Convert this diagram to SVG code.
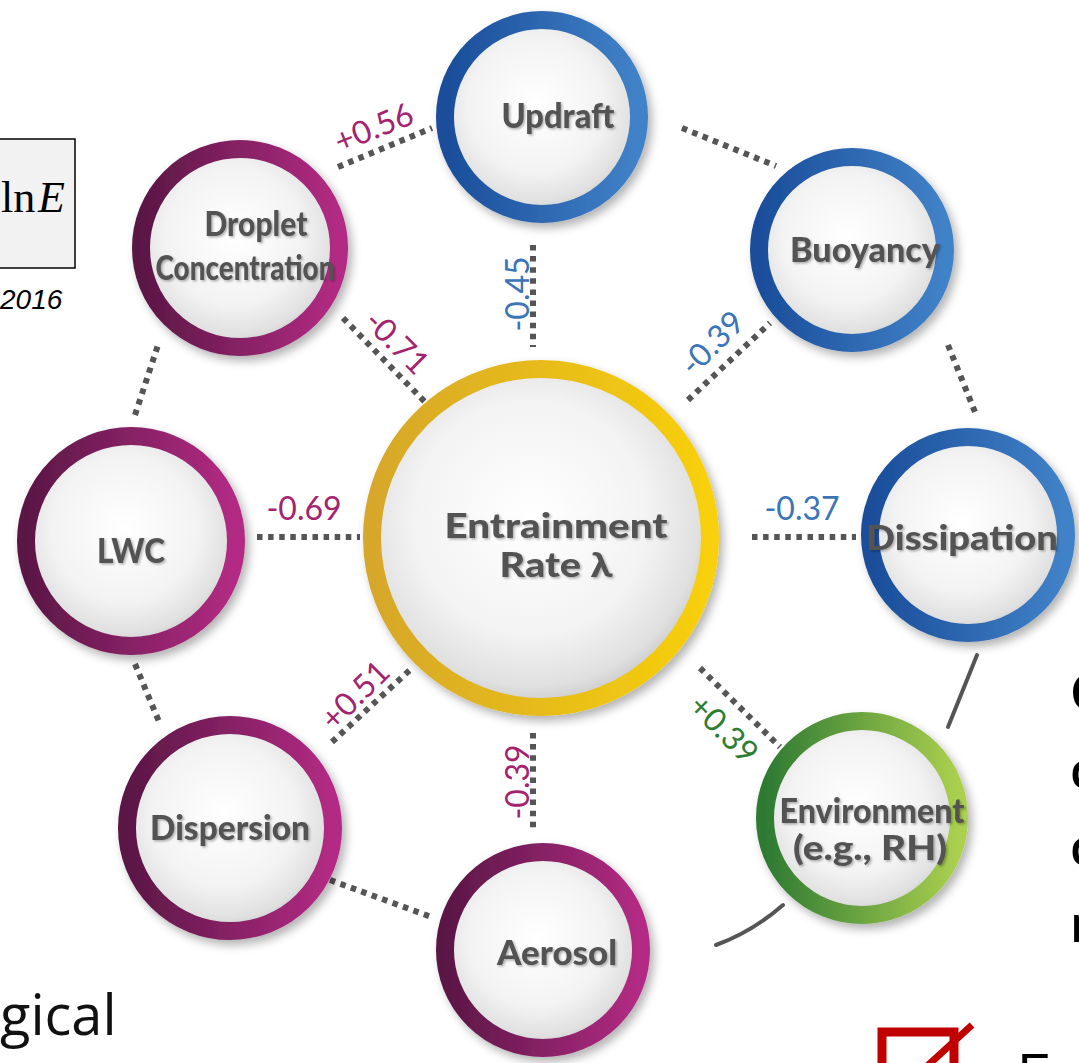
<svg xmlns="http://www.w3.org/2000/svg" width="1079" height="1063" viewBox="0 0 1079 1063">
<defs>
<linearGradient id="gBlue" x1="0" y1="0" x2="1" y2="0"><stop offset="0" stop-color="#1a4d9a"/><stop offset="1" stop-color="#4182c8"/></linearGradient>
<linearGradient id="gMag" x1="0" y1="0" x2="1" y2="0"><stop offset="0" stop-color="#5a1745"/><stop offset="1" stop-color="#b32b84"/></linearGradient>
<linearGradient id="gYel" x1="0" y1="0" x2="1" y2="0"><stop offset="0" stop-color="#d6a72a"/><stop offset="1" stop-color="#f8d00a"/></linearGradient>
<linearGradient id="gGrn" x1="0" y1="0" x2="1" y2="0"><stop offset="0" stop-color="#2e7a33"/><stop offset="1" stop-color="#abd04f"/></linearGradient>
<radialGradient id="gDisc" cx="0.47" cy="0.44" r="0.58"><stop offset="0" stop-color="#ffffff"/><stop offset="0.6" stop-color="#f3f3f3"/><stop offset="0.86" stop-color="#e0e0e0"/><stop offset="1" stop-color="#c2c2c2"/></radialGradient>
<filter id="shadow" x="-20%" y="-20%" width="150%" height="150%"><feDropShadow dx="4" dy="5" stdDeviation="5" flood-color="#000" flood-opacity="0.3"/></filter>
<filter id="tshadow" x="-10%" y="-30%" width="130%" height="170%"><feDropShadow dx="1.5" dy="1.5" stdDeviation="1.2" flood-color="#000" flood-opacity="0.3"/></filter>
</defs>
<style>
.disc{fill:url(#gDisc)}
.ring{fill:none;stroke-width:18}
.blue{stroke:url(#gBlue)}
.mag{stroke:url(#gMag)}
.yel{stroke:url(#gYel)}
.grn{stroke:url(#gGrn)}
.lbl{font-family:Lato,"Open Sans","Liberation Sans",sans-serif;font-weight:900;fill:#535353;font-size:34px;text-anchor:middle;filter:url(#tshadow)}
.dot{stroke:#555;stroke-width:6;stroke-dasharray:5.5 5.6;fill:none}
.solid{stroke:#555;stroke-width:4;fill:none;stroke-linecap:round}
.corr{font-family:Lato,"Open Sans","Liberation Sans",sans-serif;font-size:32px;text-anchor:middle}
.cm{fill:#a3236f}
.cb{fill:#3a74b9}
.cg{fill:#2e7d32}
.side{font-family:"Open Sans","Liberation Sans",sans-serif;font-weight:600;font-size:50px;fill:#000}
</style>

<g id="connectors">
<line class="dot" x1="338" y1="167" x2="432" y2="128"/>
<line class="dot" x1="682" y1="128" x2="776" y2="166"/>
<line class="dot" x1="948" y1="345" x2="975" y2="412"/>
<line class="dot" x1="135" y1="415" x2="158" y2="345"/>
<line class="dot" x1="135" y1="664" x2="160" y2="724"/>
<line class="dot" x1="330" y1="880" x2="434" y2="918"/>
<line class="solid" x1="977" y1="655" x2="948" y2="727"/>
<path class="solid" d="M783,905 Q752,932 716,945"/>
<line class="dot" x1="533" y1="245" x2="533" y2="347"/>
<line class="dot" x1="533" y1="733" x2="533" y2="833"/>
<line class="dot" x1="257" y1="537" x2="360" y2="537"/>
<line class="dot" x1="752" y1="537" x2="856" y2="537"/>
<line class="dot" x1="343" y1="318" x2="425" y2="402"/>
<line class="dot" x1="688" y1="400" x2="770" y2="323"/>
<line class="dot" x1="332" y1="742" x2="412" y2="668"/>
<line class="dot" x1="700" y1="668" x2="780" y2="747"/>
<text class="corr cm" transform="translate(378,138) rotate(-22)">+0.56</text>
<text class="corr cb" transform="translate(529,294) rotate(-90)">-0.45</text>
<text class="corr cm" transform="translate(389,350) rotate(45)">-0.71</text>
<text class="corr cb" transform="translate(720,351) rotate(-45)">-0.39</text>
<text class="corr cm" x="304" y="520">-0.69</text>
<text class="corr cb" x="802" y="520">-0.37</text>
<text class="corr cm" transform="translate(363,703) rotate(-45)">+0.51</text>
<text class="corr cm" transform="translate(529,782) rotate(-90)">-0.39</text>
<text class="corr cg" transform="translate(716,737) rotate(45)">+0.39</text>
</g>

<g id="node-center" filter="url(#shadow)">
<circle class="disc" cx="541" cy="538" r="169"/>
<circle class="ring yel" cx="541" cy="538" r="169" stroke-width="22"/>
</g>
<g id="node-center-label">
<text class="lbl" x="556" y="538" font-size="38" textLength="223" lengthAdjust="spacingAndGlyphs">Entrainment</text>
<text class="lbl" x="556" y="577" font-size="38" textLength="113" lengthAdjust="spacingAndGlyphs">Rate λ</text>
</g>

<g id="node-updraft">
<g filter="url(#shadow)"><circle class="disc" cx="542" cy="117" r="97"/><circle class="ring blue" cx="542" cy="117" r="97"/></g>
<text class="lbl" x="558" y="128" textLength="113" lengthAdjust="spacingAndGlyphs">Updraft</text>
</g>
<g id="node-buoyancy">
<g filter="url(#shadow)"><circle class="disc" cx="852" cy="250" r="93"/><circle class="ring blue" cx="852" cy="250" r="93"/></g>
<text class="lbl" x="865" y="262" textLength="150" lengthAdjust="spacingAndGlyphs">Buoyancy</text>
</g>
<g id="node-dissipation">
<g filter="url(#shadow)"><circle class="disc" cx="968" cy="535" r="98"/><circle class="ring blue" cx="968" cy="535" r="98"/></g>
<text class="lbl" x="962" y="550" textLength="192" lengthAdjust="spacingAndGlyphs">Dissipation</text>
</g>
<g id="node-environment">
<g filter="url(#shadow)"><circle class="disc" cx="862" cy="818" r="97"/><circle class="ring grn" cx="862" cy="818" r="97"/></g>
<text class="lbl" x="872" y="823" textLength="185" lengthAdjust="spacingAndGlyphs">Environment</text>
<text class="lbl" x="870" y="860" textLength="154" lengthAdjust="spacingAndGlyphs">(e.g., RH)</text>
</g>
<g id="node-aerosol">
<g filter="url(#shadow)"><circle class="disc" cx="543" cy="950" r="98"/><circle class="ring mag" cx="543" cy="950" r="98"/></g>
<text class="lbl" x="557" y="965" textLength="120" lengthAdjust="spacingAndGlyphs">Aerosol</text>
</g>
<g id="node-dispersion">
<g filter="url(#shadow)"><circle class="disc" cx="230" cy="828" r="103"/><circle class="ring mag" cx="230" cy="828" r="103"/></g>
<text class="lbl" x="230" y="840" textLength="160" lengthAdjust="spacingAndGlyphs">Dispersion</text>
</g>
<g id="node-lwc">
<g filter="url(#shadow)"><circle class="disc" cx="131" cy="541" r="105"/><circle class="ring mag" cx="131" cy="541" r="105"/></g>
<text class="lbl" x="131" y="563" textLength="68" lengthAdjust="spacingAndGlyphs">LWC</text>
</g>
<g id="node-droplet">
<g filter="url(#shadow)"><circle class="disc" cx="240" cy="248" r="99"/><circle class="ring mag" cx="240" cy="248" r="99"/></g>
<text class="lbl" x="256" y="236" textLength="103" lengthAdjust="spacingAndGlyphs">Droplet</text>
<text class="lbl" x="245" y="280" textLength="179" lengthAdjust="spacingAndGlyphs">Concentration</text>
</g>

<g id="formula-box">
<rect x="-2" y="139" width="77" height="129" fill="#f2f2f2" stroke="#000" stroke-width="1.5"/>
<text x="1" y="212" font-family="'Liberation Serif',serif" font-size="44" fill="#000">ln</text>
<text x="38" y="212" font-family="'Liberation Serif',serif" font-size="44" font-style="italic" fill="#000">E</text>
</g>
<text x="0" y="309" font-family="'Liberation Sans',Arial,sans-serif" font-size="28" font-style="italic" fill="#000">2016</text>

<text class="side" x="1070" y="710">C</text>
<text class="side" x="1070" y="788">c</text>
<text class="side" x="1070" y="865">c</text>
<text class="side" x="1070" y="942">r</text>

<text x="0" y="1035" font-family="'Open Sans','Liberation Sans',sans-serif" font-size="56" fill="#111">gical</text>

<g id="icon">
<rect x="882" y="1032" width="72" height="60" fill="none" stroke="#c00000" stroke-width="9"/>
<line x1="925" y1="1068" x2="972" y2="1025" stroke="#c00000" stroke-width="7"/>
</g>
<text x="1018" y="1090" font-family="'Liberation Sans',Arial,sans-serif" font-size="52" fill="#000">F</text>
</svg>
